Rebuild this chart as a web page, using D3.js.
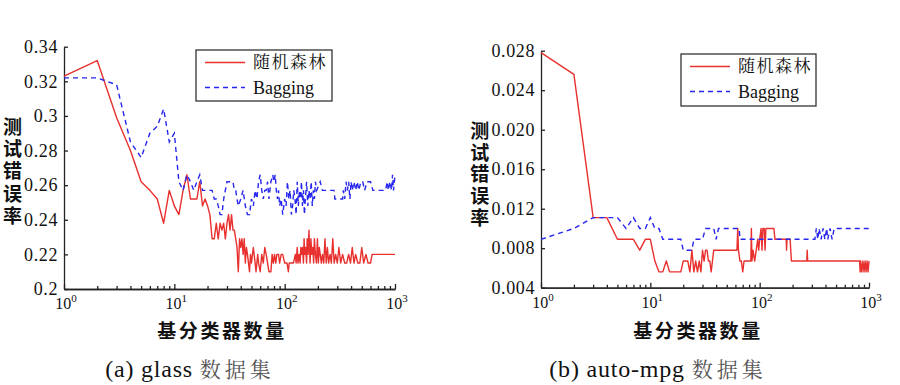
<!DOCTYPE html>
<html>
<head>
<meta charset="utf-8">
<script src="https://cdn.jsdelivr.net/npm/d3@7/dist/d3.min.js"></script>
<style>
  body { margin: 0; background: #fff; }
  .serif { font-family: "Liberation Serif", "Times New Roman", Tinos, "Noto Serif", "DejaVu Serif", serif; }
  .cjk { font-family: "Noto Serif CJK SC", "Noto Sans CJK SC", sans-serif; }
  .cjkb { font-family: "Noto Sans CJK SC", sans-serif; font-weight: bold; }
</style>
</head>
<body>
<svg id="chart" width="900" height="385"></svg>
<script>
// ---- data: [number of base classifiers, test error] ----
var glassRF = [[1,0.323],[2,0.332],[3,0.299],[4,0.280],[5,0.262],[6,0.257],[7,0.252],[8,0.238],[9,0.257],[10,0.248],
  [11,0.243],[12,0.257],[13,0.266],[14,0.252],[15,0.252],[16,0.252],[17,0.262],[18,0.248],[19,0.252],[20,0.248],
  [21,0.243],[22,0.229],[23,0.229],[24,0.238],[25,0.229],[26,0.238],[27,0.234],[28,0.238],[29,0.229],[30,0.238],
  [31,0.243],[32,0.234],[33,0.243],[34,0.234],[35,0.234],[36,0.229],[37,0.224],[38,0.210],[39,0.229],[40,0.224],
  [41,0.229],[42,0.220],[43,0.229],[44,0.215],[45,0.224],[46,0.220],[47,0.215],[48,0.210],[49,0.220],[50,0.215],
  [52,0.224],[54,0.215],[55,0.210],[57,0.220],[58,0.215],[60,0.210],[62,0.220],[64,0.215],[66,0.224],[68,0.220],
  [70,0.215],[72,0.210],[75,0.210],[77,0.220],[79,0.215],[81,0.220],[83,0.215],[85,0.220],[88,0.220],[90,0.215],
  [93,0.220],[96,0.220],[100,0.215],[105,0.215],[108,0.210],[110,0.215],[115,0.215],[120,0.215],[125,0.220],[127,0.215],
  [130,0.224],[132,0.215],[135,0.220],[138,0.215],[140,0.224],[142,0.220],[145,0.224],[148,0.215],[150,0.229],[152,0.220],
  [155,0.224],[158,0.215],[160,0.229],[163,0.220],[166,0.234],[168,0.224],[170,0.215],[173,0.229],[176,0.220],[180,0.224],
  [183,0.215],[186,0.229],[190,0.220],[194,0.215],[198,0.229],[202,0.215],[206,0.224],[210,0.220],[215,0.215],[220,0.220],
  [226,0.215],[232,0.229],[238,0.215],[244,0.224],[250,0.215],[258,0.220],[265,0.215],[273,0.229],[281,0.215],[290,0.220],
  [300,0.215],[310,0.224],[322,0.215],[335,0.220],[350,0.215],[365,0.215],[380,0.220],[395,0.215],[410,0.224],[425,0.215],
  [440,0.220],[460,0.215],[480,0.215],[500,0.224],[520,0.215],[545,0.220],[570,0.215],[600,0.215],[620,0.220],[1000,0.220]];

var glassBag = [[1,0.322],[2,0.322],[3,0.318],[4,0.285],[5,0.276],[6,0.290],[7,0.294],[8,0.304],[9,0.285],[10,0.290],
  [11,0.262],[12,0.257],[13,0.266],[14,0.262],[15,0.257],[16,0.262],[17,0.266],[18,0.257],[19,0.257],[20,0.257],
  [22,0.257],[23,0.252],[24,0.252],[25,0.248],[26,0.243],[27,0.243],[28,0.252],[29,0.257],[30,0.262],[32,0.262],
  [34,0.262],[35,0.257],[36,0.257],[37,0.252],[38,0.248],[40,0.252],[42,0.257],[44,0.248],[46,0.243],[48,0.243],
  [50,0.252],[52,0.248],[54,0.257],[56,0.252],[58,0.262],[60,0.266],[62,0.257],[64,0.252],[66,0.257],[68,0.257],
  [70,0.262],[72,0.252],[75,0.262],[78,0.266],[80,0.262],[82,0.266],[84,0.257],[86,0.252],[88,0.257],[90,0.248],
  [93,0.252],[96,0.243],[100,0.252],[103,0.248],[106,0.262],[109,0.252],[112,0.257],[115,0.243],[118,0.248],[121,0.257],
  [124,0.252],[127,0.243],[130,0.262],[133,0.248],[136,0.257],[139,0.252],[142,0.262],[145,0.248],[148,0.257],[151,0.243],
  [154,0.252],[158,0.262],[162,0.248],[166,0.257],[170,0.252],[174,0.262],[178,0.248],[182,0.257],[186,0.252],[190,0.262],
  [195,0.257],[210,0.262],[220,0.257],[280,0.257],[285,0.252],[335,0.252],[340,0.257],[350,0.252],[360,0.262],[370,0.257],
  [380,0.262],[390,0.252],[400,0.262],[410,0.257],[425,0.262],[440,0.257],[455,0.262],[470,0.257],[490,0.262],[510,0.262],
  [530,0.257],[560,0.262],[600,0.262],[630,0.257],[820,0.257],[850,0.262],[870,0.257],[900,0.262],[930,0.257],[950,0.266],
  [970,0.257],[1000,0.266]];

var mpgRF = [[1,0.0278],[2,0.0256],[3,0.0111],[4,0.0111],[5,0.0089],[6,0.0089],[7,0.0089],[8,0.0078],[9,0.0089],[10,0.0089],
  [11,0.0067],[12,0.0056],[13,0.0056],[14,0.0067],[15,0.0056],[19,0.0056],[20,0.0067],[22,0.0067],[23,0.0056],[24,0.0078],
  [25,0.0056],[26,0.0067],[27,0.0056],[28,0.0067],[29,0.0056],[30,0.0078],[31,0.0067],[32,0.0078],[33,0.0078],[34,0.0067],
  [35,0.0067],[36,0.0056],[37,0.0067],[38,0.0078],[62,0.0078],[63,0.0100],[64,0.0078],[66,0.0067],[68,0.0067],[70,0.0056],
  [72,0.0067],[83,0.0067],[84,0.0100],[85,0.0067],[87,0.0078],[90,0.0067],[93,0.0078],[96,0.0089],[98,0.0078],[100,0.0089],
  [103,0.0100],[105,0.0078],[107,0.0100],[110,0.0100],[112,0.0078],[114,0.0100],[135,0.0100],[138,0.0089],[175,0.0089],[176,0.0078],
  [178,0.0089],[190,0.0089],[195,0.0067],[270,0.0067],[272,0.0078],[275,0.0067],[820,0.0067],[830,0.0056],[840,0.0067],[860,0.0056],
  [880,0.0067],[900,0.0056],[920,0.0067],[940,0.0056],[960,0.0067],[980,0.0056],[1000,0.0067]];

var mpgBag = [[1,0.0089],[2,0.0100],[3,0.0111],[4,0.0111],[5,0.0111],[6,0.0100],[7,0.0111],[8,0.0100],[9,0.0100],[10,0.0111],
  [11,0.0100],[12,0.0100],[13,0.0089],[19,0.0089],[20,0.0078],[24,0.0078],[25,0.0089],[30,0.0089],[32,0.0100],[38,0.0100],
  [40,0.0089],[42,0.0100],[65,0.0100],[66,0.0089],[320,0.0089],[330,0.0100],[340,0.0089],[350,0.0100],[365,0.0089],[380,0.0100],
  [395,0.0089],[410,0.0100],[420,0.0089],[440,0.0100],[460,0.0089],[480,0.0100],[1000,0.0100]];

var glassYTicks = [0.2, 0.22, 0.24, 0.26, 0.28, 0.3, 0.32, 0.34];
var mpgYTicks = [0.004, 0.008, 0.012, 0.016, 0.020, 0.024, 0.028];
var xPowers = [0, 1, 2, 3];
var seriesNames = ["随机森林", "Bagging"];
var yTitle = "测试错误率";
var xTitle = "基分类器数量";

var RED = "#e8302e", BLUE = "#2626ee", INK = "#222";

var svg = d3.select("#chart");

var panels = [
  { rf: glassRF, bag: glassBag, yTicks: glassYTicks, fmt: function(v) { return String(+v.toFixed(2)); },
    x0: 64, x1: 395, yTop: 46.7, yBot: 289, yLabX: 12.5, yLabY: 117, yLabStep: 22.3,
    legend: { x: 196, y: 50, w: 136, h: 51 }, xLabX: 222, capX: 190, capA: "(a) glass " },
  { rf: mpgRF, bag: mpgBag, yTicks: mpgYTicks, fmt: function(v) { return v.toFixed(3); },
    x0: 541, x1: 869, yTop: 50.7, yBot: 287.7, yLabX: 479.7, yLabY: 121.3, yLabStep: 21.7,
    legend: { x: 681, y: 54, w: 135, h: 52 }, xLabX: 698, capX: 658, capA: "(b) auto-mpg " }
];

panels.forEach(function(p) {
  var x = d3.scaleLog().domain([1, 1000]).range([p.x0, p.x1]);
  var y = d3.scaleLinear().domain([p.yTicks[0], p.yTicks[p.yTicks.length - 1]]).range([p.yBot, p.yTop]);
  var g = svg.append("g");

  // x axis: minor then major ticks (pointing inward)
  var minor = x.ticks().filter(function(t) { return Math.abs(Math.log10(t) % 1) > 1e-6; });
  g.append("g").attr("class", "ax").attr("transform", "translate(0," + p.yBot + ")")
    .call(d3.axisBottom(x).tickValues(minor).tickSize(-3).tickSizeOuter(0).tickFormat(""));
  g.append("g").attr("class", "ax").attr("transform", "translate(0," + p.yBot + ")")
    .call(d3.axisBottom(x).tickValues(xPowers.map(function(k) { return Math.pow(10, k); }))
      .tickSize(-5).tickSizeOuter(0).tickFormat(""));
  xPowers.forEach(function(k) {
    var t = g.append("text").attr("class", "serif").attr("x", x(Math.pow(10, k)) + 2).attr("y", p.yBot + 20)
      .attr("text-anchor", "middle").style("font-size", "16px").attr("fill", "#111");
    t.append("tspan").text("10");
    t.append("tspan").attr("dy", -7).style("font-size", "11px").text(k);
  });

  // y axis
  g.append("g").attr("class", "ax").attr("transform", "translate(" + p.x0 + ",0)")
    .call(d3.axisLeft(y).tickValues(p.yTicks).tickSize(-4).tickSizeOuter(0).tickPadding(6).tickFormat(p.fmt))
    .selectAll("text").attr("class", "serif").attr("font-family", null).style("font-size", "18px")
    .style("letter-spacing", "0.6px").attr("fill", "#111");

  g.selectAll(".ax path, .ax line").attr("stroke", INK).attr("stroke-width", 1.3);

  // lines
  var line = d3.line().x(function(d) { return x(d[0]); }).y(function(d) { return y(d[1]); });
  g.append("path").datum(p.rf).attr("d", line).attr("fill", "none")
    .attr("stroke", RED).attr("stroke-width", 1.4).attr("stroke-linejoin", "round");
  g.append("path").datum(p.bag).attr("d", line).attr("fill", "none")
    .attr("stroke", BLUE).attr("stroke-width", 1.4).attr("stroke-dasharray", "5,4");

  // legend
  var L = p.legend;
  var lg = g.append("g").attr("transform", "translate(" + L.x + "," + L.y + ")");
  lg.append("rect").attr("width", L.w).attr("height", L.h).attr("fill", "#fff")
    .attr("stroke", "#333").attr("stroke-width", 1.3);
  [[RED, null, seriesNames[0], "cjk", "17px"], [BLUE, "5,4", seriesNames[1], "serif", "18px"]].forEach(function(it, i) {
    var yy = 12.5 + i * 25;
    lg.append("line").attr("x1", 9).attr("x2", 49).attr("y1", yy).attr("y2", yy)
      .attr("stroke", it[0]).attr("stroke-width", 1.4).attr("stroke-dasharray", it[1]);
    lg.append("text").attr("class", it[3]).attr("x", 57).attr("y", yy).attr("dy", "0.35em").text(it[2])
      .style("font-size", it[4]).style("letter-spacing", i === 0 ? "1.5px" : "0px").attr("fill", "#111");
  });

  // y title, written top to bottom as one text
  g.append("text").attr("class", "cjkb")
    .attr("x", p.yLabX).attr("y", p.yLabY)
    .style("writing-mode", "vertical-rl").style("text-orientation", "upright")
    .style("font-size", "19px").style("letter-spacing", (p.yLabStep - 19) + "px")
    .attr("fill", "#111").text(yTitle);

  // x title
  g.append("text").attr("class", "cjkb").attr("x", p.xLabX).attr("y", 331).attr("dy", "0.36em")
    .attr("text-anchor", "middle").style("font-size", "19px")
    .style("letter-spacing", "2.6px").attr("fill", "#111").text(xTitle);

  // caption
  var cap = g.append("text").attr("x", p.capX).attr("y", 377).attr("text-anchor", "middle");
  cap.append("tspan").attr("class", "serif").text(p.capA).style("font-size", "24px")
    .style("letter-spacing", "0.8px").attr("fill", "#111");
  cap.append("tspan").attr("class", "cjk").text("数据集").style("font-size", "21px")
    .style("letter-spacing", "4px").attr("fill", "#555");
});
</script>
</body>
</html>
